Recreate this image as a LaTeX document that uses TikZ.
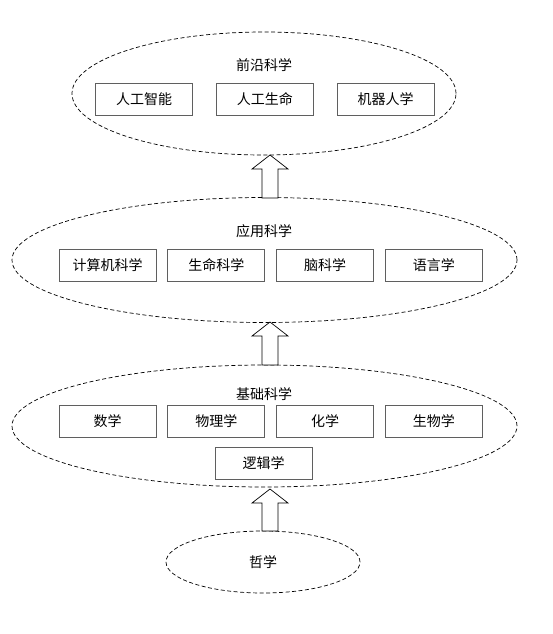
\documentclass[tikz,border=0pt]{standalone}
\usepackage{fontspec}
\newfontfamily\cjk{Noto Sans CJK SC}
\usepackage{tikz}
\usetikzlibrary{shapes.geometric,positioning,calc}
\definecolor{boxline}{RGB}{95,95,95}
\tikzset{
  field/.style   ={draw, ellipse, dash pattern=on 4pt off 2.5pt,
                   line width=0.7pt, inner sep=0pt},
  subject/.style ={draw=boxline, line width=0.8pt, minimum width=97pt,
                   minimum height=32pt, inner sep=0pt,
                   font=\cjk\fontsize{14}{16}\selectfont},
  fieldname/.style={font=\cjk\fontsize{14}{16}\selectfont, inner sep=0pt},
  hollowarr/.style={draw, fill=white, line width=0.7pt, line join=miter},
}
\newcommand{\blockarrow}[2]{%
  \draw[hollowarr] let \p1=(#1), \p2=(#2) in
    (\x1-8pt,\y1) -- (\x1-8pt,\y2-14pt) -- (\x1-18pt,\y2-14pt) -- (\x1,\y2)
    -- (\x1+18pt,\y2-14pt) -- (\x1+8pt,\y2-14pt) -- (\x1+8pt,\y1) -- cycle;}

\begin{document}
\begin{tikzpicture}[x=1pt,y=-1pt]
  \useasboundingbox (0,0) rectangle (552,634);

  % ellipses
  \node[field, minimum width=384pt, minimum height=123pt] (front) at (264,93.5) {};
  \node[field, minimum width=505pt, minimum height=125pt] (apply) at (264.5,260) {};
  \node[field, minimum width=505pt, minimum height=122pt] (basic) at (264.5,426) {};
  \node[field, minimum width=194pt, minimum height=62pt,
        font=\cjk\fontsize{14}{16}\selectfont] (philo) at (263,562) {哲学};

  % hollow arrows
  \coordinate (u1a) at (270,198); \coordinate (u1b) at (270,155);
  \coordinate (u2a) at (270,365); \coordinate (u2b) at (270,322);
  \coordinate (u3a) at (270,531); \coordinate (u3b) at (270,489);
  \blockarrow{u1a}{u1b}
  \blockarrow{u2a}{u2b}
  \blockarrow{u3a}{u3b}

  % frontier
  \node[fieldname] (t1) at (264,65) {前沿科学};
  \node[subject] (ai) at (144,99.5) {人工智能};
  \node[subject, right=23pt of ai] (alife) {人工生命};
  \node[subject, right=23pt of alife] (robo) {机器人学};

  % applied
  \node[fieldname] (t2) at (264,231) {应用科学};
  \node[subject] (cs) at (107.5,265) {计算机科学};
  \node[subject, right=11pt of cs] (life) {生命科学};
  \node[subject, right=11pt of life] (brain) {脑科学};
  \node[subject, right=11pt of brain] (lang) {语言学};

  % basic
  \node[fieldname] (t3) at (264,394) {基础科学};
  \node[subject] (math) at (107.5,421.5) {数学};
  \node[subject, right=11pt of math] (phys) {物理学};
  \node[subject, right=11pt of phys] (chem) {化学};
  \node[subject, right=11pt of chem] (biol) {生物学};
  \node[subject] (logic) at (263.5,463) {逻辑学};
\end{tikzpicture}
\end{document}
